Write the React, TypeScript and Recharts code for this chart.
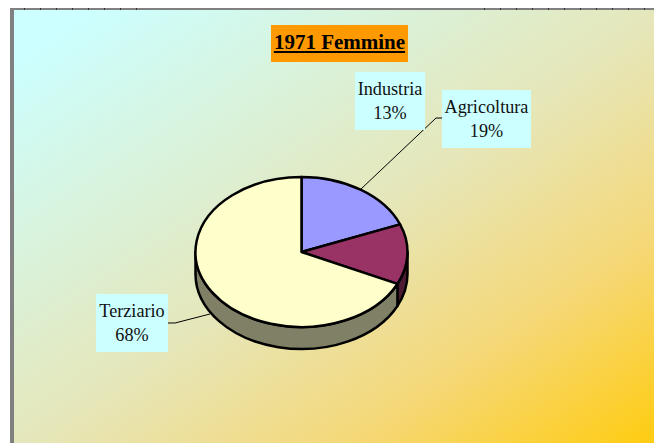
import React from "react";
import { PieChart, Pie, Cell } from "recharts";

const categories = ["Agricoltura", "Industria", "Terziario"];
const shares = [19, 13, 68];
const topColors = ["#9999FF", "#993366", "#FFFFCC"];
const wallColors = ["#4D4D80", "#4D1A33", "#808066"];
const titleText = "1971 Femmine";
const tickXs = [24, 40, 56, 72, 88, 104, 120, 136, 484, 500, 516, 532, 548, 564, 580, 596, 612, 628, 644];

const data = categories.map((name, i) => ({ name, value: shares[i] }));

const W = 654;
const H = 443;
const CX = 301.5;
const CY = 252;
const RX = 106;
const SQUASH = 75 / 106;
const DEPTH = 22;
const RAD = Math.PI / 180;
const OUTLINE = 2.5;

const pt = (cx: number, cy: number, deg: number, rx: number) => ({
  x: cx + rx * Math.cos(deg * RAD),
  y: cy - rx * SQUASH * Math.sin(deg * RAD),
});

function Slice(props: any) {
  const { cx, cy, outerRadius: r, startAngle, endAngle, fill, index } = props;
  const a = pt(cx, cy, startAngle, r);
  const b = pt(cx, cy, endAngle, r);
  const ry = r * SQUASH;
  const large = Math.abs(startAngle - endAngle) > 180 ? 1 : 0;
  const top = `M${cx},${cy} L${a.x},${a.y} A${r},${ry} 0 ${large} 1 ${b.x},${b.y} Z`;
  // visible wall: part of the arc in the lower half (math angles -180..0)
  const wallStart = Math.min(startAngle, 0);
  const wallEnd = Math.max(endAngle, -180);
  let wall = null;
  if (wallStart > wallEnd) {
    const s = pt(cx, cy, wallStart, r);
    const e = pt(cx, cy, wallEnd, r);
    const l = wallStart - wallEnd > 180 ? 1 : 0;
    const d = `M${s.x},${s.y} A${r},${ry} 0 ${l} 1 ${e.x},${e.y} L${e.x},${e.y + DEPTH} A${r},${ry} 0 ${l} 0 ${s.x},${s.y + DEPTH} Z`;
    wall = <path d={d} fill={wallColors[index]} stroke="#000" strokeWidth={OUTLINE} strokeLinejoin="round" />;
  }
  return (
    <g>
      {wall}
      <path d={top} fill={fill} stroke="#000" strokeWidth={OUTLINE} strokeLinejoin="round" />
    </g>
  );
}

const labelBoxes: Record<string, { x: number; y: number; w: number; h: number; leader?: string }> = {
  Agricoltura: { x: 442, y: 90, w: 89, h: 58, leader: "M361,189 L436,118 L442,118" },
  Industria: { x: 355, y: 72, w: 70, h: 58 },
  Terziario: { x: 96, y: 294, w: 72, h: 58, leader: "M210,314 L175,323 L168,323" },
};

function SliceLabel(props: any) {
  const { name, value } = props;
  const box = labelBoxes[name];
  const mid = box.x + box.w / 2;
  return (
    <g>
      {box.leader && <path d={box.leader} fill="none" stroke="#000" strokeWidth={1} />}
      <rect x={box.x} y={box.y} width={box.w} height={box.h} fill="#CCFFFF" />
      <text x={mid} y={box.y + 23} textAnchor="middle" fontFamily="'Liberation Serif'" fontSize={18.2} fill="#111">
        {name}
      </text>
      <text x={mid} y={box.y + 46.5} textAnchor="middle" fontFamily="'Liberation Serif'" fontSize={18.2} fill="#111">
        {value}%
      </text>
    </g>
  );
}

export default function App() {
  return (
    <div style={{ position: "absolute", left: 0, top: 0, width: W, height: H, overflow: "hidden", background: "#fff" }}>
      <div style={{ position: "absolute", left: 10, top: 8, right: 0, height: 2, background: "#808080" }} />
      <div style={{ position: "absolute", left: 10, top: 8, width: 4, bottom: 0, background: "#808080" }} />
      {tickXs.map((x) => (
        <div key={x} style={{ position: "absolute", left: x, top: 8, width: 1, height: 2, background: "#333" }} />
      ))}
      <div
        style={{
          position: "absolute",
          left: 14,
          top: 10,
          right: 0,
          bottom: 0,
          background: "linear-gradient(to bottom right, #CCFFFF 0%, #CCFFFF 6%, #E6E6B8 52%, #F5D878 76%, #FFCC11 100%)",
        }}
      />
      <div
        style={{
          position: "absolute",
          left: 271,
          top: 25,
          width: 137,
          height: 37,
          background: "#FF9900",
          color: "#000",
          fontFamily: "'Liberation Serif'",
          fontWeight: 700,
          fontSize: 21,
          lineHeight: "35px",
          textAlign: "center",
          textDecoration: "underline",
        }}
      >
        {titleText}
      </div>
      <div style={{ position: "absolute", left: 0, top: 0 }}>
        <PieChart width={W} height={H} margin={{ top: 0, right: 0, bottom: 0, left: 0 }}>
          <Pie
            data={data}
            dataKey="value"
            nameKey="name"
            cx={CX}
            cy={CY}
            outerRadius={RX}
            innerRadius={0}
            startAngle={90}
            endAngle={-270}
            stroke="#000"
            isAnimationActive={false}
            labelLine={false}
            label={SliceLabel}
            shape={Slice}
          >
            {data.map((d, i) => (
              <Cell key={d.name} fill={topColors[i]} />
            ))}
          </Pie>
        </PieChart>
      </div>
    </div>
  );
}
